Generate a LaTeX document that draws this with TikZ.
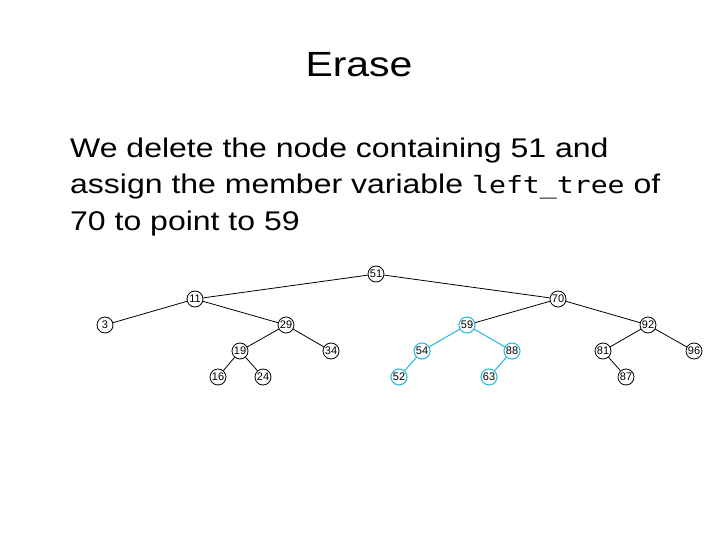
\documentclass[tikz,border=0pt]{standalone}
\usepackage{fontspec}
\setmainfont{Liberation Sans}
\setmonofont{DejaVu Sans Mono}[Scale=0.88]
\definecolor{subtree}{RGB}{51,187,221}

\begin{document}
\begin{tikzpicture}[x=1pt,y=-1pt,
  key/.style={draw=black,circle,line width=0.8pt,minimum size=16pt,inner sep=0pt,
    font=\fontsize{11}{11}\selectfont},
  moved/.style={key,draw=subtree,line width=1.1pt},
  link/.style={line width=0.8pt,color=black},
  movedlink/.style={line width=1.1pt,color=subtree},
  slidetext/.style={anchor=base west,inner sep=0pt,font=\fontsize{27}{27}\selectfont}]
\useasboundingbox (0,0) rectangle (720,540);

% title
\node[anchor=base,inner sep=0pt,font=\fontsize{35}{35}\selectfont] (title) at (359,77)
  {\scalebox{1.17}[1]{Erase}};

% text
\node[slidetext] (line1) at (70,158) {\scalebox{1.185}[1]{We delete the node containing 51 and}};
\node[slidetext] (line2) at (70,194) {\scalebox{1.185}[1]{assign the member variable \texttt{left\_tree} of}};
\node[slidetext] (line3) at (70,230) {\scalebox{1.185}[1]{70 to point to 59}};

% tree
\node[key] (n51) at (376,274) {51};
\node[key] (n11) at (195,299) {11};
\node[key] (n70) at (558,299) {70};
\node[key] (n3)  at (105,325) {3};
\node[key] (n29) at (286,325) {29};
\node[moved] (n59) at (467,325) {59};
\node[key] (n92) at (648,325) {92};
\node[key] (n19) at (240,351) {19};
\node[key] (n34) at (331,351) {34};
\node[moved] (n54) at (422,351) {54};
\node[moved] (n88) at (512,351) {88};
\node[key] (n81) at (603,351) {81};
\node[key] (n96) at (694,351) {96};
\node[key] (n16) at (218,377) {16};
\node[key] (n24) at (263,377) {24};
\node[moved] (n52) at (399,377) {52};
\node[moved] (n63) at (489,377) {63};
\node[key] (n87) at (626,377) {87};

\draw[link] (n51) -- (n11) (n51) -- (n70);
\draw[link] (n11) -- (n3) (n11) -- (n29);
\draw[link] (n29) -- (n19) (n29) -- (n34);
\draw[link] (n19) -- (n16) (n19) -- (n24);
\draw[link] (n70) -- (n59) (n70) -- (n92);
\draw[link] (n92) -- (n81) (n92) -- (n96);
\draw[link] (n81) -- (n87);

\draw[movedlink] (n59) -- (n54) (n59) -- (n88);
\draw[movedlink] (n54) -- (n52) (n88) -- (n63);

\end{tikzpicture}
\end{document}
